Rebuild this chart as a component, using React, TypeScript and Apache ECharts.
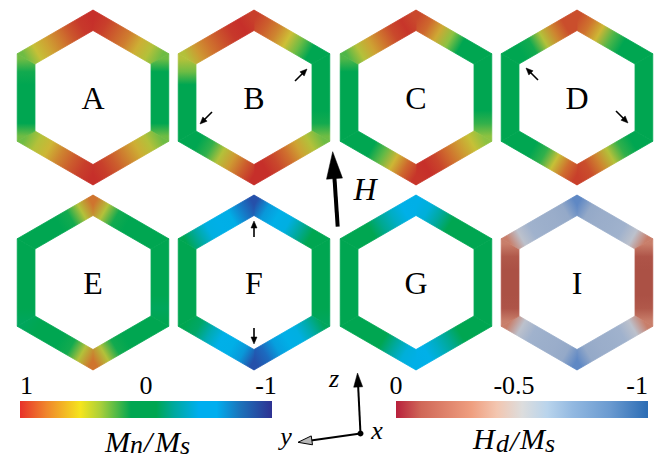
import React, { useEffect, useRef } from "react";
import * as echarts from "echarts";

// ---------- layout constants ----------
const W = 661;
const H = 459;
const SERIF = "'Liberation Serif', 'Times New Roman', serif";
const RO = 87.5; // outer vertex radius
const RI = 67; // inner vertex radius

// ---------- rings ----------
const ringLabels = ["A", "B", "C", "D", "E", "F", "G", "I"];
const ringCx = [93, 254, 416, 577, 93, 254, 416, 577];
const ringCy = [97.5, 97.5, 97.5, 97.5, 282.5, 282.5, 282.5, 282.5];
const ringScale = ["mn", "mn", "mn", "mn", "mn", "mn", "mn", "hd"];

// 6 samples per edge; edges clockwise from top vertex:
// T->UR, UR->LR, LR->B, B->LL, LL->UL, UL->T
const ringA = [
  1.0, 0.95, 0.85, 0.75, 0.58, 0.45,
  0.3, 0.08, 0, 0, 0, 0.1,
  0.3, 0.45, 0.58, 0.72, 0.85, 0.95,
  1.0, 0.95, 0.85, 0.72, 0.55, 0.45,
  0.3, 0.1, 0, 0, 0.05, 0.15,
  0.3, 0.5, 0.62, 0.75, 0.88, 0.97,
];
const ringB = [
  0.95, 0.85, 0.72, 0.52, 0.3, 0.1,
  0.02, 0, 0, 0, 0.05, 0.15,
  0.3, 0.45, 0.62, 0.8, 0.92, 1.0,
  1.0, 0.85, 0.65, 0.45, 0.2, 0.05,
  0, 0, 0, 0, 0.1, 0.3,
  0.45, 0.65, 0.78, 0.88, 0.97, 1.0,
];
const ringC = [
  0.92, 0.82, 0.6, 0.35, 0.12, 0.02,
  0, 0, 0, 0, 0.05, 0.2,
  0.35, 0.5, 0.65, 0.8, 0.93, 1.0,
  0.98, 0.82, 0.55, 0.28, 0.08, 0,
  0, 0, 0, 0, 0.02, 0.1,
  0.25, 0.45, 0.62, 0.78, 0.92, 0.98,
];
const ringD = [
  0.9, 0.78, 0.55, 0.25, 0.05, 0,
  0, 0, 0, 0, 0, 0,
  0, 0.05, 0.2, 0.45, 0.72, 0.9,
  0.95, 0.8, 0.5, 0.2, 0.05, 0,
  0, 0, 0, 0, 0, 0,
  0, 0.02, 0.15, 0.45, 0.72, 0.9,
];
const ringE = [
  0.78, 0.45, 0.15, 0.02, 0, 0,
  -0.08, 0, 0, 0, 0, -0.1,
  -0.08, 0, 0, 0.02, 0.15, 0.45,
  0.78, 0.45, 0.15, 0.02, 0, 0,
  -0.1, 0, 0, 0, 0, -0.08,
  -0.08, 0, 0, 0.02, 0.15, 0.45,
];
const ringF = [
  -0.9, -0.62, -0.5, -0.4, -0.22, -0.08,
  0, 0, 0, 0, 0, -0.05,
  -0.1, -0.25, -0.4, -0.5, -0.6, -0.75,
  -0.9, -0.62, -0.5, -0.42, -0.28, -0.12,
  -0.03, 0, 0, 0, 0, -0.03,
  -0.08, -0.22, -0.4, -0.5, -0.55, -0.7,
];
const ringG = [
  -0.52, -0.38, -0.22, -0.08, 0, 0,
  0, 0, 0, 0, 0, 0,
  0, 0, -0.08, -0.2, -0.32, -0.42,
  -0.52, -0.38, -0.22, -0.08, 0, 0,
  0, 0, 0, 0, 0, 0,
  0, 0, -0.08, -0.2, -0.32, -0.42,
];
const ringI = [
  -0.85, -0.7, -0.66, -0.65, -0.62, -0.52,
  -0.25, -0.08, -0.06, -0.06, -0.06, -0.1,
  -0.25, -0.52, -0.62, -0.65, -0.66, -0.7,
  -0.85, -0.7, -0.66, -0.65, -0.62, -0.52,
  -0.25, -0.08, -0.06, -0.06, -0.06, -0.1,
  -0.25, -0.52, -0.62, -0.65, -0.66, -0.7,
];
const ringValues = [ringA, ringB, ringC, ringD, ringE, ringF, ringG, ringI];

// ---------- colour scales ----------
const mnTicks = [1, 0, -1];
const hdTicks = [0, -0.5, -1];
const mnStops = [1, 0.79, 0.52, 0.36, 0.12, -0.08, -0.22, -0.42, -0.56, -0.74, -1];
const mnBarColors = ["#e8312a", "#f0862c", "#f5e51d", "#a9cf3a", "#00a651", "#00a651", "#00a99d", "#00aeef", "#00aeef", "#1b75bc", "#2e3192"];
const mnRingColors = ["#c62f2a", "#cf712e", "#cdbf36", "#92c340", "#00a651", "#00a651", "#00a99d", "#00b0e8", "#00aee6", "#1b6cc0", "#2b3f9c"];
const hdStops = [0, -0.1, -0.3, -0.4, -0.5, -0.6, -0.7, -0.85, -1];
const hdBarColors = ["#b8203c", "#d06858", "#ef9f80", "#f3c6b0", "#dddddd", "#b9d4ec", "#93b9e1", "#6a9ad0", "#2b6cb4"];
const hdRingColors = ["#a4463e", "#b0584a", "#d08a74", "#d8b4a6", "#c2c4cc", "#a3b4ce", "#94a9c8", "#5f88c4", "#2f5fb6"];

function hexToRgb(h: string) {
  const n = parseInt(h.slice(1), 16);
  return [(n >> 16) & 255, (n >> 8) & 255, n & 255];
}
function colorAt(v: number, stops: number[], colors: string[]) {
  if (v >= stops[0]) return colors[0];
  if (v <= stops[stops.length - 1]) return colors[colors.length - 1];
  for (let i = 0; i < stops.length - 1; i++) {
    if (v <= stops[i] && v >= stops[i + 1]) {
      const t = (stops[i] - v) / (stops[i] - stops[i + 1] || 1);
      const a = hexToRgb(colors[i]);
      const b = hexToRgb(colors[i + 1]);
      const c = a.map((x, k) => Math.round(x + (b[k] - x) * t));
      return `rgb(${c[0]},${c[1]},${c[2]})`;
    }
  }
  return colors[0];
}

function hexPt(cx: number, cy: number, k: number, rad: number) {
  const a = ((-90 + 60 * k) * Math.PI) / 180;
  return [cx + rad * Math.cos(a), cy + rad * Math.sin(a)];
}

// ---------- annotations ----------
function arrow(x1: number, y1: number, x2: number, y2: number, lw: number, hl: number, hw: number, fill: string, outline?: boolean) {
  const dx = x2 - x1, dy = y2 - y1;
  const L = Math.hypot(dx, dy);
  const ux = dx / L, uy = dy / L, px = -uy, py = ux;
  const bx = x2 - ux * hl, by = y2 - uy * hl;
  return [
    { type: "line", z: 100, shape: { x1, y1, x2: bx + ux, y2: by + uy }, style: { stroke: "#000", lineWidth: lw } },
    {
      type: "polygon", z: 101,
      shape: { points: [[x2, y2], [bx + (px * hw) / 2, by + (py * hw) / 2], [bx - (px * hw) / 2, by - (py * hw) / 2]] },
      style: { fill, stroke: outline ? "#000" : fill, lineWidth: outline ? 1 : 0.5 },
    },
  ];
}

function txt(text: string, x: number, y: number, size: number, italic: boolean, align = "center") {
  return {
    type: "text", z: 100, x, y,
    style: {
      text, fontSize: size, fontFamily: SERIF, fontStyle: italic ? "italic" : "normal", fill: "#000",
      align, verticalAlign: "middle", textAlign: align, textVerticalAlign: "middle",
    },
  };
}

const smallArrows = [
  [295, 81, 307, 69],
  [212, 112, 200, 124],
  [538, 80, 526, 68],
  [616, 111, 628, 123],
  [254, 237, 254, 221],
  [254, 328, 254, 344],
];

export default function App() {
  const ref = useRef<HTMLDivElement>(null);
  useEffect(() => {
    const chart = echarts.init(ref.current!, null, { renderer: "svg" });

    const ringData: number[][] = [];
    ringValues.forEach((_, r) => { for (let e = 0; e < 6; e++) ringData.push([r, e]); });

    const ringSeries = {
      type: "custom",
      xAxisIndex: 0, yAxisIndex: 0,
      data: ringData,
      renderItem: (params: any, api: any) => {
        const r = api.value(0), e = api.value(1);
        const cx = ringCx[r], cy = ringCy[r];
        const vals = ringValues[r];
        const isMn = ringScale[r] === "mn";
        const stops = isMn ? mnStops : hdStops;
        const cols = isMn ? mnRingColors : hdRingColors;
        const P = (k: number, rad: number) => api.coord(hexPt(cx, cy, k, rad));
        const o0 = P(e, RO), o1 = P(e + 1, RO), i1 = P(e + 1, RI), i0 = P(e, RI);
        const m0 = P(e, (RO + RI) / 2), m1 = P(e + 1, (RO + RI) / 2);
        const colorStops = [];
        for (let j = 0; j <= 6; j++) {
          colorStops.push({ offset: j / 6, color: colorAt(vals[(e * 6 + j) % 36], stops, cols) });
        }
        const grad = new echarts.graphic.LinearGradient(m0[0], m0[1], m1[0], m1[1], colorStops, true);
        return {
          type: "polygon",
          shape: { points: [o0, o1, i1, i0] },
          style: { fill: grad, stroke: grad, lineWidth: 0.8 },
        };
      },
    };

    const barSeries = (idx: number, left: number, right: number, stops: number[], colors: string[]) => ({
      type: "custom",
      xAxisIndex: idx, yAxisIndex: idx,
      data: [[left, 0]],
      renderItem: (params: any, api: any) => {
        const p0 = api.coord([left, 1]);
        const p1 = api.coord([right, 0]);
        const x = Math.min(p0[0], p1[0]), y = Math.min(p0[1], p1[1]);
        const w = Math.abs(p1[0] - p0[0]), h = Math.abs(p1[1] - p0[1]);
        const cs = stops.map((s, i) => ({ offset: (left - s) / (left - right), color: colors[i] }));
        return { type: "rect", shape: { x, y, width: w, height: h }, style: { fill: new echarts.graphic.LinearGradient(0, 0, 1, 0, cs) } };
      },
    });

    const labelBase = { fontSize: 26, fontFamily: SERIF, fontStyle: "normal", color: "#000", margin: 3 };

    const elements: any[] = [];
    ringLabels.forEach((l, r) => elements.push(txt(l, ringCx[r], ringCy[r] + 0.5, 32, false)));
    smallArrows.forEach((a) => elements.push(...arrow(a[0], a[1], a[2], a[3], 1.6, 7, 6, "#000")));
    // field arrow H
    elements.push(...arrow(337.7, 226.7, 332.7, 151.7, 4, 27, 16, "#000"));
    elements.push(txt("H", 365, 189, 32, true));
    // coordinate triad
    elements.push(...arrow(360.5, 433.5, 357.5, 373, 2, 14, 9, "#000"));
    elements.push(...arrow(360.5, 433.5, 298, 442.3, 2, 14, 9, "#b8b8b8", true));
    elements.push({ type: "circle", z: 102, shape: { cx: 360.5, cy: 433.5, r: 3 }, style: { fill: "#000" } });
    elements.push(txt("z", 334, 378, 26, true));
    elements.push(txt("x", 377, 430.5, 26, true));
    elements.push(txt("y", 286, 436, 26, true));
    // colour bar names
    elements.push(txt("M", 105, 441.5, 30, true, "left"));
    elements.push(txt("n", 130, 444, 26, true, "left"));
    elements.push(txt("/", 144, 441.5, 30, true, "left"));
    elements.push(txt("M", 155, 441.5, 30, true, "left"));
    elements.push(txt("s", 180, 445, 26, true, "left"));
    elements.push(txt("H", 473, 438.5, 30, true, "left"));
    elements.push(txt("d", 496, 443, 26, true, "left"));
    elements.push(txt("/", 510, 440, 30, true, "left"));
    elements.push(txt("M", 520, 438.5, 30, true, "left"));
    elements.push(txt("s", 545, 443, 26, true, "left"));

    const shiftRich = { s: { fontSize: 26, fontFamily: SERIF, color: "#000", padding: [0, 12, 0, 0] }, t: { fontSize: 26, fontFamily: SERIF, color: "#000", padding: [0, 16, 0, 0] } };

    chart.setOption({
      animation: false,
      backgroundColor: "#ffffff",
      grid: [
        { left: 0, top: 0, width: W, height: H },
        { left: 20, top: 401, width: 252, height: 17 },
        { left: 396, top: 401, width: 252, height: 17 },
      ],
      xAxis: [
        { gridIndex: 0, type: "value", min: 0, max: W, show: false },
        {
          gridIndex: 1, type: "value", min: -1, max: 1, inverse: true, position: "top",
          axisLine: { show: false }, axisTick: { show: false }, splitLine: { show: false },
          axisLabel: {
            ...labelBase, customValues: mnTicks, alignMinLabel: "left",
            formatter: (v: number) => (v === -1 ? `{s|${v}}` : `${v}`),
            rich: shiftRich,
          },
        },
        {
          gridIndex: 2, type: "value", min: -1, max: 0, inverse: true, position: "top",
          axisLine: { show: false }, axisTick: { show: false }, splitLine: { show: false },
          axisLabel: {
            ...labelBase, customValues: hdTicks, alignMaxLabel: "right",
            formatter: (v: number) => (v === -0.5 ? `{t|${v}}` : `${v}`),
            rich: shiftRich,
          },
        },
      ],
      yAxis: [
        { gridIndex: 0, type: "value", min: 0, max: H, inverse: true, show: false },
        { gridIndex: 1, type: "value", min: 0, max: 1, show: false },
        { gridIndex: 2, type: "value", min: 0, max: 1, show: false },
      ],
      series: [
        ringSeries,
        barSeries(1, 1, -1, mnStops, mnBarColors),
        barSeries(2, 0, -1, hdStops, hdBarColors),
      ],
      graphic: { elements },
    });
    return () => chart.dispose();
  }, []);
  return <div ref={ref} style={{ position: "fixed", left: 0, top: 0, width: W, height: H, background: "#fff" }} />;
}
